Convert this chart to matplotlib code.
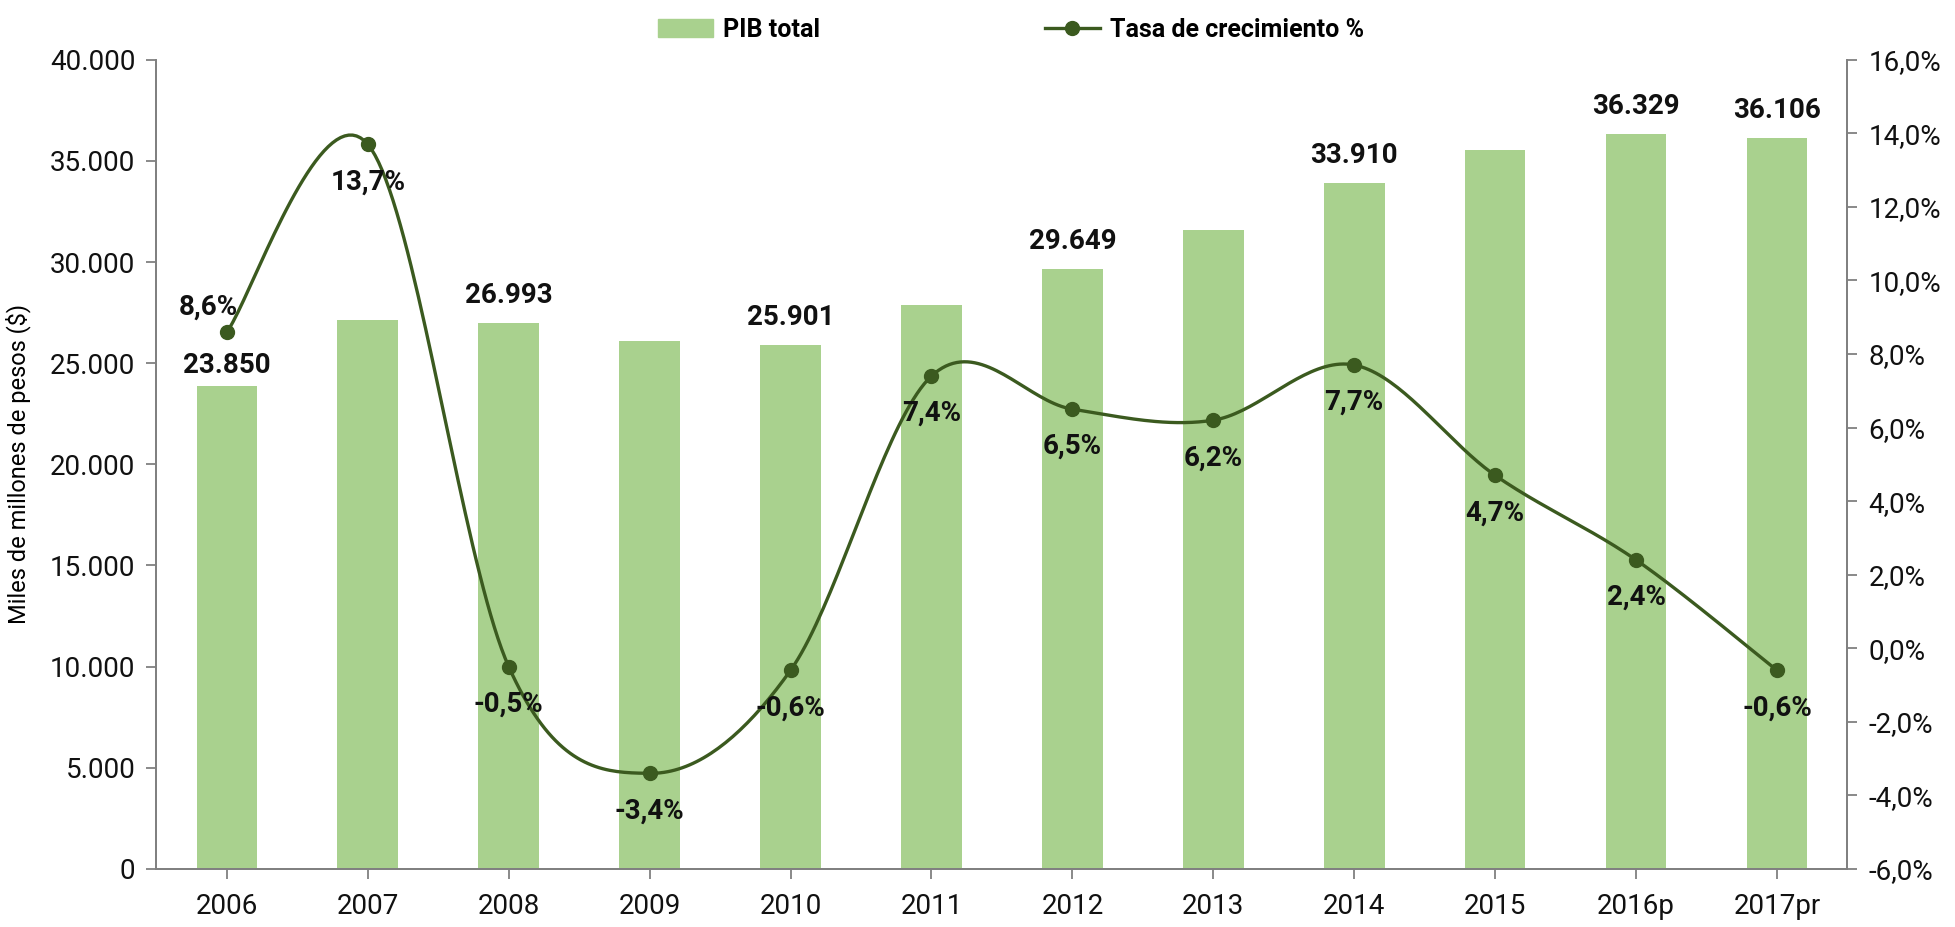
import numpy as np
import matplotlib
matplotlib.use('Agg')
import matplotlib.pyplot as plt
from matplotlib.lines import Line2D
from matplotlib.patches import Patch

plt.rcParams['font.family'] = ['Roboto', 'DejaVu Sans']

# Datos
anios = ['2006', '2007', '2008', '2009', '2010', '2011', '2012', '2013', '2014', '2015', '2016p', '2017pr']
pib = [23850, 27130, 26993, 26090, 25901, 27870, 29649, 31560, 33910, 35560, 36329, 36106]
tasa = [8.6, 13.7, -0.5, -3.4, -0.6, 7.4, 6.5, 6.2, 7.7, 4.7, 2.4, -0.6]
con_etiqueta = [True, False, True, False, True, False, True, False, True, False, True, True]

verde_barra = '#A9D18E'
verde_linea = '#3B5A1F'
gris = '#808080'


def miles(v):
    return f'{v:,.0f}'.replace(',', '.')


def pct(v):
    return f'{v:.1f}%'.replace('.', ',')


# curva suavizada tipo Excel (Bezier entre puntos)
def suavizar(x, y, n=40):
    x = np.asarray(x, float)
    y = np.asarray(y, float)
    xs, ys = [], []
    for i in range(len(x) - 1):
        i0 = max(i - 1, 0)
        i3 = min(i + 2, len(x) - 1)
        p0 = np.array([x[i0], y[i0]])
        p1 = np.array([x[i], y[i]])
        p2 = np.array([x[i + 1], y[i + 1]])
        p3 = np.array([x[i3], y[i3]])
        c1 = p1 + (p2 - p0) / 6
        c2 = p2 - (p3 - p1) / 6
        t = np.linspace(0, 1, n)[:, None]
        b = (1 - t) ** 3 * p1 + 3 * (1 - t) ** 2 * t * c1 + 3 * (1 - t) * t ** 2 * c2 + t ** 3 * p2
        xs.extend(b[:, 0])
        ys.extend(b[:, 1])
    return np.array(xs), np.array(ys)


fig = plt.figure(figsize=(19.55, 9.27), dpi=100)
ax = fig.add_axes([0.080, 0.0626, 0.865, 0.873])
x = np.arange(len(anios))

ax.bar(x, pib, width=0.43, color=verde_barra, zorder=2)
ax.set_xlim(-0.5, len(anios) - 0.5)
ax.set_ylim(0, 40000)
ax.set_yticks(np.arange(0, 40001, 5000))
ax.set_yticklabels([miles(v) for v in np.arange(0, 40001, 5000)])
ax.set_xticks(x)
ax.set_xticklabels(anios)
ax.set_ylabel('Miles de millones de pesos ($)', fontsize=17, labelpad=14)

for i, v in enumerate(pib):
    if con_etiqueta[i]:
        dy = 15 if i == 0 else 20
        ax.annotate(miles(v), (x[i], v), xytext=(0, dy), textcoords='offset points',
                    ha='center', va='center', fontsize=20, fontweight='bold', color='#111111')

ax2 = ax.twinx()
ax2.set_ylim(-6, 16)
ax2.set_yticks(np.arange(-6, 16.1, 2))
ax2.set_yticklabels([pct(v) for v in np.arange(-6, 16.1, 2)])

xs, ys = suavizar(x, tasa)
ax2.plot(xs, ys, color=verde_linea, linewidth=2.4, zorder=3)
ax2.plot(x, tasa, 'o', color=verde_linea, markersize=10, zorder=4)

for i, v in enumerate(tasa):
    if i == 0:
        off = (-13, 18)
    else:
        off = (0, -27)
    ax2.annotate(pct(v), (x[i], v), xytext=off, textcoords='offset points',
                 ha='center', va='center', fontsize=20, fontweight='bold', color='#111111', zorder=5)

for a in (ax, ax2):
    a.spines['top'].set_visible(False)
    for s in ('left', 'right', 'bottom'):
        a.spines[s].set_color(gris)
        a.spines[s].set_linewidth(1.3)
    a.tick_params(colors=gris, labelcolor='#111111', labelsize=20, length=7, width=1.3)
ax.tick_params(axis='x', pad=10)
ax.tick_params(axis='y', pad=8)
ax2.tick_params(axis='y', pad=8)

handles = [Patch(color=verde_barra, label='PIB total'),
           Line2D([0], [0], color=verde_linea, linewidth=2.4, marker='o', markersize=10,
                  label='Tasa de crecimiento %')]
leg = fig.legend(handles=handles, loc='upper center', bbox_to_anchor=(0.517, 1.005), ncol=2,
                 frameon=False, columnspacing=9, handlelength=2.2, handletextpad=0.4,
                 prop={'size': 18, 'weight': 'bold'})

fig.savefig('out.png', dpi=100)
